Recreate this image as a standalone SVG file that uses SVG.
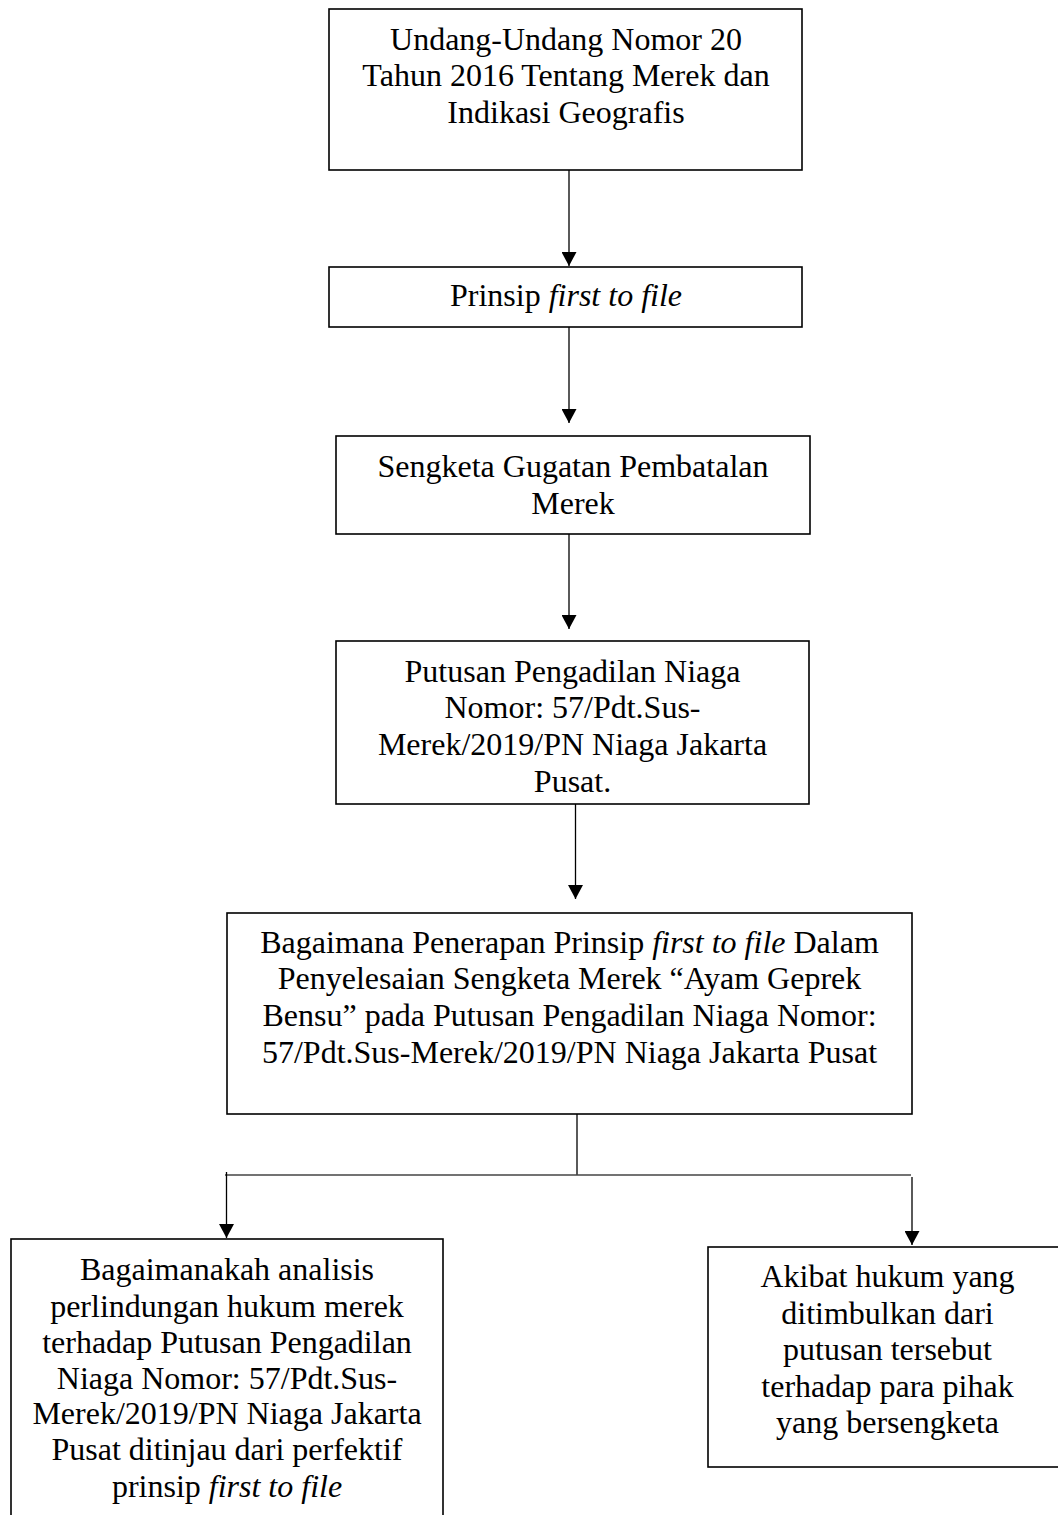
<svg xmlns="http://www.w3.org/2000/svg" width="1058" height="1515" viewBox="0 0 1058 1515">
<style>
.box{fill:#fff;stroke:#000;stroke-width:1.6}
.t{font-family:"Liberation Serif","Times New Roman",serif;font-size:32px;fill:#000;text-anchor:middle}
.i{font-style:italic}
.c{fill:none;stroke:#000;stroke-width:1.3}
</style>
<defs>
<marker id="ah" viewBox="0 0 14 15" refX="14" refY="7.5" markerWidth="14" markerHeight="15" orient="auto" markerUnits="userSpaceOnUse">
<path d="M0,0 L14,7.5 L0,15 z" fill="#000"/>
</marker>
</defs>
<rect width="1058" height="1515" fill="#fff"/>
<g id="connectors">
<line class="c" x1="569" y1="170" x2="569" y2="266" marker-end="url(#ah)"/>
<line class="c" x1="569" y1="327" x2="569" y2="423" marker-end="url(#ah)"/>
<line class="c" x1="569" y1="534" x2="569" y2="629" marker-end="url(#ah)"/>
<line class="c" x1="575.5" y1="804" x2="575.5" y2="899" marker-end="url(#ah)"/>
<line class="c" x1="577" y1="1114" x2="577" y2="1175"/>
<line class="c" x1="225" y1="1175" x2="911" y2="1175" style="stroke:#444;stroke-width:1.6"/>
<line class="c" x1="226.5" y1="1172" x2="226.5" y2="1238" marker-end="url(#ah)"/>
<line class="c" x1="912" y1="1177" x2="912" y2="1245" marker-end="url(#ah)"/>
</g>
<g id="n1">
<rect class="box" x="329" y="9" width="473" height="161"/>
<text class="t" x="566" y="49.5">Undang-Undang Nomor 20</text>
<text class="t" x="566" y="86">Tahun 2016 Tentang Merek dan</text>
<text class="t" x="566" y="122.5">Indikasi Geografis</text>
</g>
<g id="n2">
<rect class="box" x="329" y="267" width="473" height="60"/>
<text class="t" x="566" y="306">Prinsip <tspan class="i">first to file</tspan></text>
</g>
<g id="n3">
<rect class="box" x="336" y="436" width="474" height="98"/>
<text class="t" x="573" y="477">Sengketa Gugatan Pembatalan</text>
<text class="t" x="573" y="513.5">Merek</text>
</g>
<g id="n4">
<rect class="box" x="336" y="641" width="473" height="163"/>
<text class="t" x="572.5" y="681.7">Putusan Pengadilan Niaga</text>
<text class="t" x="572.5" y="718.3">Nomor: 57/Pdt.Sus-</text>
<text class="t" x="572.5" y="754.8">Merek/2019/PN Niaga Jakarta</text>
<text class="t" x="572.5" y="791.5">Pusat.</text>
</g>
<g id="n5">
<rect class="box" x="227" y="913" width="685" height="201"/>
<text class="t" x="569.5" y="952.7">Bagaimana Penerapan Prinsip <tspan class="i">first to file</tspan> Dalam</text>
<text class="t" x="569.5" y="989.3">Penyelesaian Sengketa Merek “Ayam Geprek</text>
<text class="t" x="569.5" y="1026">Bensu” pada Putusan Pengadilan Niaga Nomor:</text>
<text class="t" x="569.5" y="1062.7">57/Pdt.Sus-Merek/2019/PN Niaga Jakarta Pusat</text>
</g>
<g id="n6">
<rect class="box" x="11" y="1239" width="432" height="300"/>
<text class="t" x="227" y="1280">Bagaimanakah analisis</text>
<text class="t" x="227" y="1316.7">perlindungan hukum merek</text>
<text class="t" x="227" y="1352.7">terhadap Putusan Pengadilan</text>
<text class="t" x="227" y="1388.5">Niaga Nomor: 57/Pdt.Sus-</text>
<text class="t" x="227" y="1424.3">Merek/2019/PN Niaga Jakarta</text>
<text class="t" x="227" y="1460.3">Pusat ditinjau dari perfektif</text>
<text class="t" x="227" y="1496.7">prinsip <tspan class="i">first to file</tspan></text>
</g>
<g id="n7">
<rect class="box" x="708" y="1247" width="360" height="220"/>
<text class="t" x="887.5" y="1287">Akibat hukum yang</text>
<text class="t" x="887.5" y="1323.5">ditimbulkan dari</text>
<text class="t" x="887.5" y="1360">putusan tersebut</text>
<text class="t" x="887.5" y="1396.5">terhadap para pihak</text>
<text class="t" x="887.5" y="1433">yang bersengketa</text>
</g>
</svg>
